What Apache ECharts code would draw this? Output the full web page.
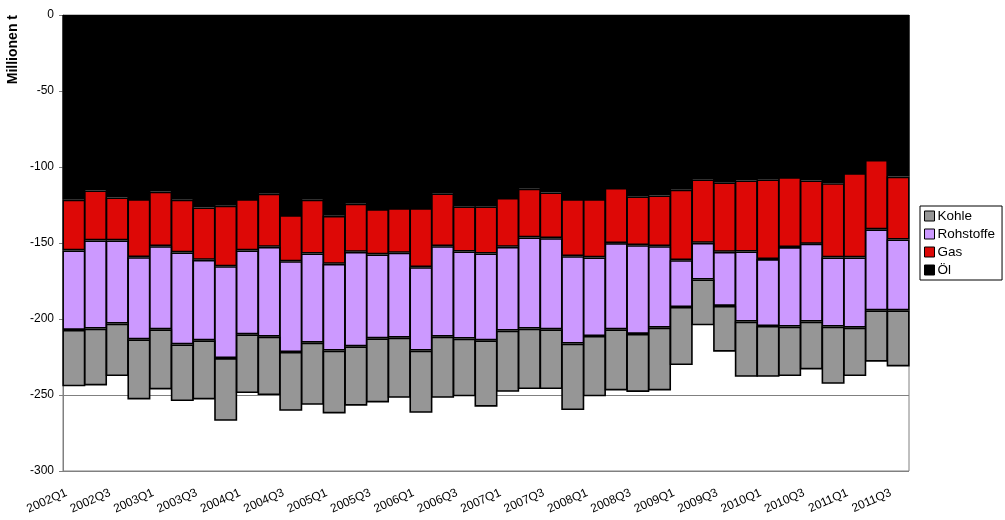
<!DOCTYPE html>
<html>
<head>
<meta charset="utf-8">
<script src="https://cdn.jsdelivr.net/npm/echarts@6/dist/echarts.min.js"></script>
<style>
html,body{margin:0;padding:0;background:#fff;}
#chart{width:1005px;height:520px;}
</style>
</head>
<body>
<div id="chart"></div>
<script>
const quarters = [
  '2002Q1','2002Q2','2002Q3','2002Q4','2003Q1','2003Q2','2003Q3','2003Q4',
  '2004Q1','2004Q2','2004Q3','2004Q4','2005Q1','2005Q2','2005Q3','2005Q4',
  '2006Q1','2006Q2','2006Q3','2006Q4','2007Q1','2007Q2','2007Q3','2007Q4',
  '2008Q1','2008Q2','2008Q3','2008Q4','2009Q1','2009Q2','2009Q3','2009Q4',
  '2010Q1','2010Q2','2010Q3','2010Q4','2011Q1','2011Q2','2011Q3'
];
const oel = [-121.5,-115.4,-120.0,-121.1,-116.2,-121.5,-126.6,-125.5,-121.1,-117.6,
  -131.6,-121.5,-132.1,-124.1,-127.7,-127.0,-127.0,-117.3,-125.9,-125.9,
  -120.4,-114.3,-116.7,-121.1,-121.1,-113.8,-119.3,-118.7,-114.9,-108.1,
  -110.1,-108.8,-108.1,-106.6,-108.8,-110.7,-104.0,-95.4,-106.3];
const gas = [-33.4,-32.9,-28.3,-38.2,-35.9,-34.7,-34.5,-39.8,-33.8,-34.9,
  -30.4,-35.4,-31.6,-31.7,-29.8,-29.4,-38.9,-34.8,-29.7,-31.0,
  -32.1,-32.0,-30.1,-37.6,-38.4,-36.3,-32.1,-33.4,-46.4,-41.8,
  -45.7,-46.8,-52.5,-46.1,-41.7,-48.8,-55.5,-45.6,-41.4];
const rohstoffe = [-52.3,-58.0,-54.7,-54.1,-54.7,-60.5,-52.9,-60.4,-55.2,-59.1,
  -59.7,-58.7,-57.1,-62.2,-55.2,-55.9,-54.9,-59.5,-57.3,-57.1,
  -55.1,-60.0,-60.0,-57.5,-51.7,-56.7,-58.4,-53.6,-30.8,-24.1,
  -35.6,-46.1,-44.0,-52.3,-51.2,-45.5,-46.2,-53.3,-46.6];
const kohle = [-37.1,-37.4,-34.5,-39.5,-39.5,-37.3,-38.9,-41.3,-38.6,-38.4,
  -38.7,-40.8,-41.3,-39.0,-42.2,-39.5,-40.9,-40.2,-38.0,-43.7,
  -40.3,-39.8,-39.3,-43.7,-39.7,-40.2,-38.2,-41.3,-38.2,-30.1,
  -30.1,-36.3,-33.4,-32.5,-31.5,-37.6,-31.8,-33.8,-36.9];
const yTicks = [0,-50,-100,-150,-200,-250,-300];
const legendOrder = ['Kohle','Rohstoffe','Gas','Öl'];

const FONT = 'Liberation Sans, Arial, sans-serif';
const chart = echarts.init(document.getElementById('chart'), null, {renderer:'canvas'});
function bar(name, data, color){
  return {
    name: name, type: 'bar', stack: 'total', data: data,
    barWidth: 23,
    itemStyle: {color: color, borderColor: '#000', borderWidth: 1.6},
    emphasis: {disabled: true}
  };
}
chart.setOption({
  animation: false,
  backgroundColor: '#fff',
  grid: {left: 63, right: 96, top: 15, bottom: 49, show: true, borderColor: '#808080', borderWidth: 1, backgroundColor: 'transparent'},
  legend: {
    data: legendOrder, orient: 'vertical', left: 920, top: 206,
    itemWidth: 10, itemHeight: 10, itemGap: 4,
    padding: [3, 7, 3, 4],
    borderColor: '#000', borderWidth: 1,
    textStyle: {fontFamily: FONT, fontSize: 13.5, color: '#000', padding: [0,0,0,-2]},
    itemStyle: {borderWidth: 1, borderColor: '#000'},
    icon: 'rect'
  },
  graphic: [{
    type: 'text', left: 6, top: 15,
    rotation: Math.PI/2,
    style: {text: 'Millionen t', font: 'bold 14px ' + FONT, fill: '#000'}
  }],
  xAxis: {
    type: 'category', data: quarters,
    axisLine: {lineStyle: {color: '#808080'}},
    axisTick: {show: false},
    axisLabel: {interval: 1, rotate: 24, fontFamily: FONT, fontSize: 12, color: '#000', margin: 18, padding: [0, 8, 0, 0]}
  },
  yAxis: {
    type: 'value', min: -300, max: 0, interval: 50,
    axisLine: {show: true, lineStyle: {color: '#808080'}},
    axisTick: {show: true, length: 4, lineStyle: {color: '#808080'}},
    axisLabel: {fontFamily: FONT, fontSize: 12, color: '#000', margin: 9,
      formatter: function(v){ return yTicks.indexOf(v) >= 0 ? String(v) : ''; }},
    splitLine: {show: true, lineStyle: {color: '#808080', width: 1}}
  },
  series: [
    bar('Öl', oel, '#000000'),
    bar('Gas', gas, '#DD0806'),
    bar('Rohstoffe', rohstoffe, '#CC99FF'),
    bar('Kohle', kohle, '#969696')
  ]
});
</script>
</body>
</html>
